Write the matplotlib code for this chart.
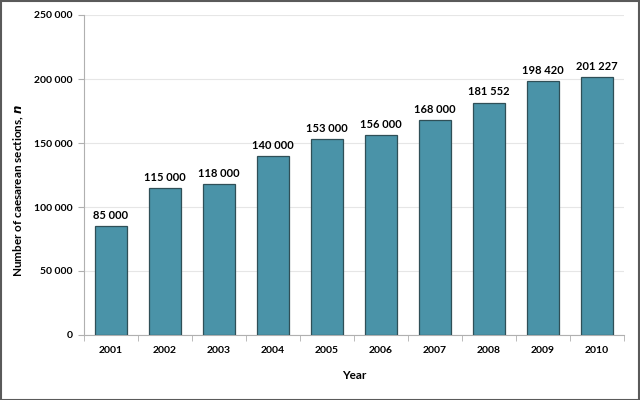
import matplotlib
matplotlib.use("Agg")
import matplotlib.pyplot as plt
from matplotlib.ticker import FuncFormatter

years = ["2001", "2002", "2003", "2004", "2005", "2006", "2007", "2008", "2009", "2010"]
sections = [85000, 115000, 118000, 140000, 153000, 156000, 168000, 181552, 198420, 201227]

plt.rcParams['font.family'] = ['Lato', 'DejaVu Sans']

def fmt(v, pos=None):
    return "{:,}".format(int(v)).replace(",", " ")

fig = plt.figure(figsize=(6.4, 4.0), dpi=100)
ax = fig.add_axes([84 / 640, 1 - 335 / 400, 540 / 640, 320 / 400])

x = list(range(len(years)))
ax.bar(x, sections, width=0.58, color="#4a93a8", edgecolor="#2f4f57", linewidth=0.9, zorder=3)
for xi, v in zip(x, sections):
    ax.text(xi, v + 4000, fmt(v), ha="center", va="bottom", fontsize=8, fontweight="bold")

ax.set_xlim(-0.5, len(years) - 0.5)
ax.set_ylim(0, 250000)
ax.set_yticks(range(0, 250001, 50000))
ax.yaxis.set_major_formatter(FuncFormatter(fmt))
ax.grid(axis="y", color="#e6e6e6", linewidth=0.8, zorder=0)

ax.set_xticks(x)
ax.set_xticklabels(years)
ax.set_xticks([i + 0.5 for i in range(-1, len(years))], minor=True)
ax.tick_params(axis="x", which="major", length=0, pad=8)
ax.tick_params(axis="x", which="minor", length=4, color="#b0b0b0")
ax.tick_params(axis="y", length=4, color="#b0b0b0", pad=4)
for lab in ax.get_xticklabels() + ax.get_yticklabels():
    lab.set_fontsize(7.5)
    lab.set_fontweight("bold")

for s in ["top", "right"]:
    ax.spines[s].set_visible(False)
ax.spines["left"].set_color("#b0b0b0")
ax.spines["bottom"].set_color("#b0b0b0")

ax.set_xlabel("Year", fontsize=8.5, fontweight="bold", labelpad=11)
ax.set_ylabel("Number of caesarean sections, $\\mathbfit{n}$", fontsize=8.5, fontweight="bold")
ax.yaxis.set_label_coords(-0.108, 0.45)

fig.patches.append(plt.Rectangle((0.001, 0.001), 0.997, 0.997, transform=fig.transFigure,
                                 fill=False, edgecolor="#5a5a5a", linewidth=1.5))
fig.savefig("out.png", dpi=100)
